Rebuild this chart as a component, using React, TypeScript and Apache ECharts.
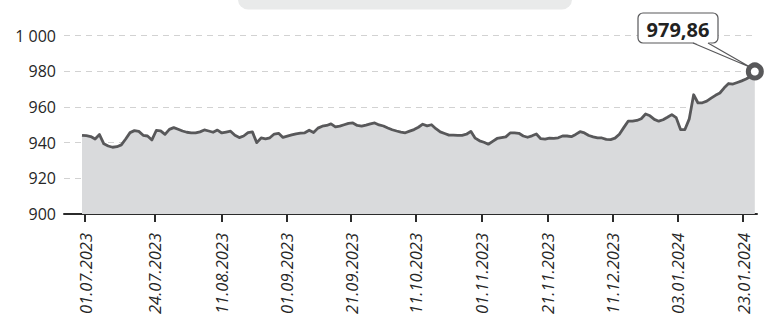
import React, { useEffect, useRef } from "react";
import * as echarts from "echarts";

// Daily index closes, one per trading session
const closes: number[] = [
  944.1, 943.9, 943.4, 942.0, 944.5, 939.3, 938.1, 937.4, 937.7, 938.7,
  942.0, 945.6, 946.7, 946.3, 944.1, 943.7, 941.5, 946.8, 946.6, 944.6,
  947.4, 948.4, 947.5, 946.5, 945.8, 945.4, 945.4, 946.0, 947.1, 946.5,
  945.8, 947.0, 945.4, 945.9, 946.4, 944.1, 942.8, 943.7, 945.6, 946.0,
  940.0, 942.6, 942.1, 942.7, 944.8, 945.2, 942.9, 943.6, 944.3, 944.9,
  945.3, 945.5, 946.9, 945.6, 948.1, 949.2, 949.6, 950.5, 948.8, 949.2,
  950.0, 950.8, 951.0, 949.6, 949.2, 949.8, 950.5, 951.0, 949.9, 949.3,
  948.2, 947.2, 946.5, 945.9, 945.5, 946.4, 947.3, 948.6, 950.3, 949.4,
  950.0, 947.8, 946.0, 945.1, 944.2, 944.2, 944.0, 944.1, 944.7, 946.3,
  942.5, 941.0, 940.2, 939.1, 940.7, 942.3, 942.8, 943.2, 945.4, 945.4,
  945.2, 943.7, 943.0, 943.8, 944.8, 942.2, 941.9, 942.5, 942.4, 942.7,
  943.7, 943.7, 943.3, 944.6, 946.1, 945.4, 944.0, 943.2, 942.6, 942.6,
  941.8, 941.7, 942.5, 944.7, 948.4, 952.0, 952.0, 952.4, 953.4, 956.0,
  955.0, 953.0, 952.0, 952.8, 954.2, 955.7, 954.0, 947.3, 947.3, 953.3,
  966.8, 962.2, 962.3, 963.2, 964.9, 966.5, 967.8, 970.7, 973.1, 972.8,
  973.7, 974.6, 975.6, 977.0, 979.86,
];

// Date labels and where they sit along the session index
const tickLabels: string[] = [
  "01.07.2023", "24.07.2023", "11.08.2023", "01.09.2023", "21.09.2023",
  "11.10.2023", "01.11.2023", "21.11.2023", "11.12.2023", "03.01.2024",
  "23.01.2024",
];
const tickIndex: number[] = [0.7, 16.7, 32, 46.9, 61.6, 76.4, 91.5, 106.6, 121.5, 136.4, 151.3];

const yTicks: number[] = [900, 920, 940, 960, 980, 1000];

const LINE = "#58585a";
const TEXT = "#262626";
const FONT = "'Open Sans', 'Noto Sans', sans-serif";

const fmtNumber = (v: number, digits = 0) => {
  const s = v.toFixed(digits);
  const [intPart, frac] = s.split(".");
  const grouped = intPart.replace(/\B(?=(\d{3})+(?!\d))/g, " ");
  return frac ? `${grouped},${frac}` : grouped;
};

export default function App() {
  const ref = useRef<HTMLDivElement>(null);

  useEffect(() => {
    if (!ref.current) return;
    const chart = echarts.init(ref.current, undefined, { renderer: "svg" });
    const last = closes.length - 1;

    const data = closes.map((v, i) =>
      i === last
        ? {
            value: [i, v],
            symbol: "circle",
            symbolSize: 13,
            itemStyle: { color: "#ffffff", borderColor: LINE, borderWidth: 5 },
          }
        : { value: [i, v] }
    );

    chart.setOption({
      animation: false,
      textStyle: { fontFamily: FONT },
      grid: { left: 64, right: 7, top: 35.5, bottom: 113, containLabel: false },
      xAxis: {
        type: "value",
        min: -4.12,
        max: last + 0.5,
        axisLine: { show: true, lineStyle: { color: "#2b2b2b", width: 2 } },
        axisTick: {
          show: true,
          customValues: tickIndex,
          length: 8,
          lineStyle: { color: "#2b2b2b", width: 2 },
        },
        axisLabel: {
          customValues: tickIndex,
          rotate: 90,
          margin: 19,
          fontSize: 16.5,
          fontStyle: "italic",
          color: TEXT,
          fontFamily: FONT,
          formatter: (val: number) => {
            let best = 0;
            tickIndex.forEach((t, k) => {
              if (Math.abs(t - val) < Math.abs(tickIndex[best] - val)) best = k;
            });
            return tickLabels[best];
          },
        },
        splitLine: { show: false },
      },
      yAxis: {
        type: "value",
        min: yTicks[0],
        max: yTicks[yTicks.length - 1],
        interval: 20,
        axisLine: { show: false },
        axisTick: { show: false },
        axisLabel: {
          margin: 8,
          fontSize: 16,
          color: TEXT,
          fontFamily: FONT,
          formatter: (v: number) => fmtNumber(v),
        },
        splitLine: {
          show: true,
          lineStyle: { color: "#d2d2d2", type: [6, 5], width: 1 },
        },
      },
      series: [
        {
          type: "line",
          data,
          symbol: "none",
          showSymbol: true,
          z: 3,
          lineStyle: { color: LINE, width: 2.8, join: "round" },
          itemStyle: { color: LINE },
          areaStyle: { color: "#d9dadc", opacity: 1, origin: "start" },
        },
      ],
    });

    // Value callout for the latest close
    const [px, py] = chart.convertToPixel({ gridIndex: 0 }, [last, closes[last]]) as number[];
    const boxW = 80;
    const boxH = 30;
    const boxX = 638;
    const boxY = 13;
    const baseL = 693;
    const baseR = 708;

    chart.setOption({
      graphic: [
        {
          type: "rect",
          z: 1,
          shape: { x: 238, y: -30, width: 334, height: 39.5, r: 10 },
          style: { fill: "#e9eaea" },
        },
        {
          type: "rect",
          z: 1,
          shape: { x: boxX, y: boxY, width: boxW, height: boxH, r: 5 },
          style: { fill: "#ffffff", stroke: LINE, lineWidth: 1.2 },
        },
        {
          type: "polygon",
          z: 1,
          shape: { points: [[baseL, boxY + boxH - 1], [baseR, boxY + boxH - 1], [px - 4, py - 4]] },
          style: { fill: "#ffffff" },
        },
        {
          type: "polyline",
          z: 1,
          shape: { points: [[baseL, boxY + boxH], [px - 4, py - 4], [baseR, boxY + boxH]] },
          style: { stroke: LINE, lineWidth: 1.2, fill: null },
        },
        {
          type: "text",
          z: 1,
          x: boxX + boxW / 2,
          y: boxY + boxH / 2 + 1,
          style: {
            text: fmtNumber(closes[last], 2),
            fontFamily: FONT,
            fontSize: 20,
            fontWeight: "bold",
            fill: "#222222",
            align: "center",
            verticalAlign: "middle",
          },
        },
      ],
    });

    return () => chart.dispose();
  }, []);

  return (
    <div
      ref={ref}
      style={{ position: "fixed", left: 0, top: 0, width: 764, height: 327, background: "#ffffff" }}
    />
  );
}
